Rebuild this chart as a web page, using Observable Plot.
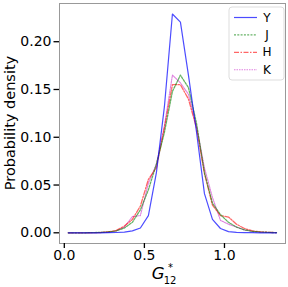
<!DOCTYPE html>
<html>
<head>
<meta charset="utf-8">
<script src="https://cdn.jsdelivr.net/npm/d3@7"></script>
<script src="https://cdn.jsdelivr.net/npm/@observablehq/plot@0.6"></script>
<style>
  html, body { margin: 0; padding: 0; background: #fff; }
  #chart svg { display: block; font-family: "DejaVu Sans", sans-serif; }
</style>
</head>
<body>
<div id="chart"></div>
<script>
// Bin centres of G*_12
const xs = [0.025, 0.075, 0.125, 0.175, 0.225, 0.275, 0.325, 0.375, 0.425, 0.475, 0.525, 0.575, 0.625, 0.675,
            0.725, 0.775, 0.825, 0.875, 0.925, 0.975, 1.025, 1.075, 1.125, 1.175, 1.225, 1.275, 1.325];
const seriesNames = ["Y", "J", "H", "K"];
const valuesY = [0, 0, 0, 0, 0, 0.0002, 0.0003, 0.0008, 0.002, 0.005, 0.018, 0.063, 0.132, 0.229,
                 0.2205, 0.165, 0.106, 0.041, 0.014, 0.0045, 0.0012, 0.0004, 0.0002, 0.0001, 0, 0, 0];
const valuesJ = [0, 0, 0, 0.0002, 0.0004, 0.0009, 0.002, 0.005, 0.011, 0.024, 0.045, 0.072, 0.105, 0.148,
                 0.165, 0.152, 0.115, 0.063, 0.031, 0.019, 0.011, 0.006, 0.003, 0.0015, 0.0008, 0.0004, 0.0002];
const valuesH = [0, 0, 0, 0.0001, 0.0003, 0.001, 0.0025, 0.007, 0.014, 0.028, 0.056, 0.068, 0.11, 0.155,
                 0.155, 0.14, 0.11, 0.062, 0.029, 0.018, 0.0165, 0.009, 0.0045, 0.002, 0.001, 0.0005, 0.0002];
const valuesK = [0, 0, 0, 0.0001, 0.0003, 0.0008, 0.002, 0.006, 0.017, 0.018, 0.052, 0.072, 0.112, 0.165,
                 0.157, 0.145, 0.112, 0.068, 0.037, 0.013, 0.009, 0.006, 0.003, 0.0015, 0.0008, 0.0004, 0.0002];
const xTicks = [0.0, 0.5, 1.0];
const yTicks = [0.00, 0.05, 0.10, 0.15, 0.20];

const styles = {
  Y: {stroke: "rgba(0,0,255,0.7)", dash: null, width: 1.2},
  J: {stroke: "rgba(0,128,0,0.6)", dash: "2,1.3", width: 1.3},
  H: {stroke: "rgba(255,0,0,0.6)", dash: "5,1.5,1.5,1.5", width: 1.3},
  K: {stroke: "rgba(191,0,191,0.5)", dash: "1.5,1", width: 1.1}
};
const valueMap = {Y: valuesY, J: valuesJ, H: valuesH, K: valuesK};
const rows = seriesNames.flatMap(s => xs.map((x, i) => ({series: s, x, y: valueMap[s][i]})));

const lineMarks = seriesNames.map(s => Plot.line(rows.filter(d => d.series === s), {
  x: "x", y: "y",
  stroke: styles[s].stroke,
  strokeWidth: styles[s].width,
  strokeDasharray: styles[s].dash
}));

const plot = Plot.plot({
  width: 288,
  height: 287,
  marginLeft: 59,
  marginRight: 3,
  marginTop: 3,
  marginBottom: 44,
  style: {fontFamily: "DejaVu Sans, sans-serif", background: "#fff"},
  x: {domain: [-0.03, 1.381]},
  y: {domain: [-0.0112, 0.240]},
  marks: [
    ...lineMarks.reverse(),
    Plot.frame({stroke: "#999", strokeWidth: 1}),
    Plot.axisX({ticks: xTicks, tickFormat: d3.format(".1f"), tickSize: 5, tickPadding: 2,
                fontSize: 14, label: null, stroke: "#000", strokeWidth: 1.3, color: "#000"}),
    Plot.axisY({ticks: yTicks, tickFormat: d3.format(".2f"), tickSize: 5.5, tickPadding: 2.5,
                fontSize: 14, label: null, stroke: "#000", strokeWidth: 1.3, color: "#000"})
  ]
});
document.getElementById("chart").appendChild(plot);

const svg = d3.select(plot);
// y label
svg.append("text")
  .attr("transform", "translate(10,123) rotate(-90)")
  .attr("text-anchor", "middle")
  .attr("dominant-baseline", "central")
  .attr("font-size", 14.5)
  .attr("fill", "#000")
  .text("Probability density");
// x label: G*_12 (three separate pieces)
svg.append("text")
  .attr("x", 164.5).attr("y", 279)
  .attr("text-anchor", "end")
  .attr("font-size", 16.5)
  .attr("font-style", "italic")
  .attr("fill", "#000")
  .text("G");
svg.append("text")
  .attr("x", 170.5).attr("y", 270.5)
  .attr("font-size", 10)
  .attr("fill", "#000")
  .text("*");
svg.append("text")
  .attr("x", 170).attr("y", 283.5)
  .attr("font-size", 10)
  .attr("fill", "#000")
  .text("12");

// legend
const lg = svg.append("g").attr("transform", "translate(229,7)");
lg.append("rect").attr("width", 55).attr("height", 73).attr("rx", 3)
  .attr("fill", "rgba(255,255,255,0.85)").attr("stroke", "#ddd");
seriesNames.forEach((s, i) => {
  const cy = 10.5 + i * 17.4;
  lg.append("line").attr("x1", 5).attr("x2", 28).attr("y1", cy).attr("y2", cy)
    .attr("stroke", styles[s].stroke).attr("stroke-width", styles[s].width)
    .attr("stroke-dasharray", styles[s].dash);
  lg.append("text").attr("x", 38).attr("y", cy).attr("dominant-baseline", "central")
    .attr("font-size", 12).attr("fill", "#000").text(s);
});
</script>
</body>
</html>
